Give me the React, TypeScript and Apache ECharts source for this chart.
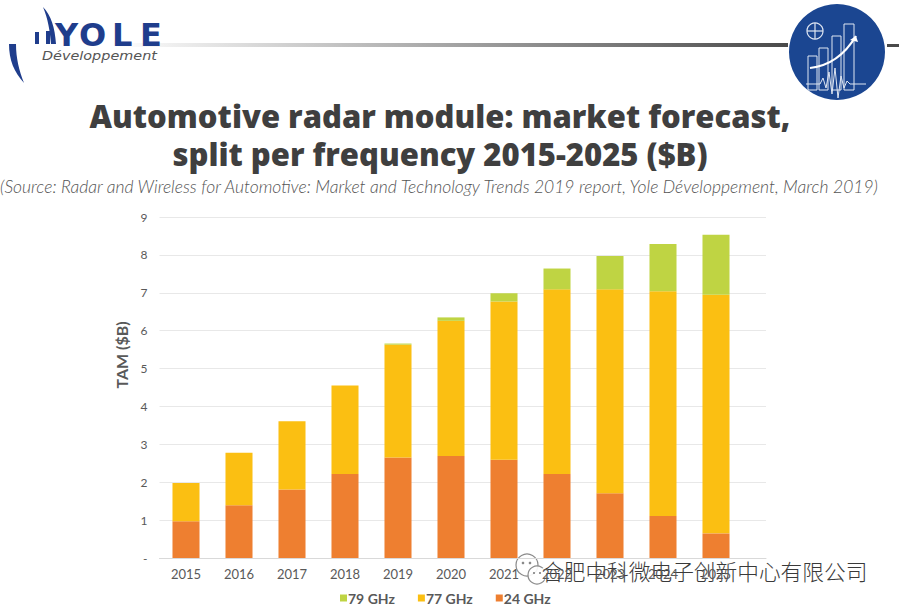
import React, { useEffect, useRef } from "react";
import * as echarts from "echarts";

const years = ["2015", "2016", "2017", "2018", "2019", "2020", "2021", "2022", "2023", "2024", "2025"];
const ghz24 = [0.97, 1.39, 1.81, 2.22, 2.65, 2.69, 2.59, 2.22, 1.71, 1.11, 0.65];
const ghz77 = [1.01, 1.39, 1.8, 2.33, 2.98, 3.57, 4.18, 4.87, 5.38, 5.93, 6.3];
const ghz79 = [0, 0, 0, 0, 0.03, 0.09, 0.22, 0.55, 0.88, 1.25, 1.58];
const seriesNames = ["79 GHz", "77 GHz", "24 GHz"];
const yTicks = [0, 1, 2, 3, 4, 5, 6, 7, 8, 9];

const titleLines = ["Automotive radar module: market forecast,", "split per frequency 2015-2025 ($B)"];
const subtitle =
  "(Source: Radar and Wireless for Automotive: Market and Technology Trends 2019 report, Yole Développement, March 2019)";
const watermark = "合肥中科微电子创新中心有限公司";
const yAxisTitle = "TAM ($B)";
const logoLetters = ["Y", "O", "L", "E"];

let registered = false;
function registerShapes() {
  if (registered) return;
  registered = true;
  echarts.graphic.registerShape(
    "yoleArmL",
    echarts.graphic.extendPath("M9,44 C9,60 14,72 24,83 C19,70 16,58 16,44 Z", {})
  );
  echarts.graphic.registerShape(
    "yoleArc",
    echarts.graphic.extendPath("M43,7 C51,15 55,28 56,44 L51,44 C50,31 48,19 43,7 Z", {})
  );
  echarts.graphic.registerShape(
    "wave",
    echarts.graphic.extendPath(
      "M0,0 L14,0 L17,-6 L20,4 L23,-12 L26,10 L29,-16 L32,14 L35,-8 L38,4 L41,-3 L44,0 L60,0",
      {}
    )
  );
  echarts.graphic.registerShape(
    "arrowCurve",
    echarts.graphic.extendPath("M0,36 C18,34 34,24 46,4", {})
  );
  echarts.graphic.registerShape(
    "arrowHead",
    echarts.graphic.extendPath("M46,4 L40,8 L48,10 Z", {})
  );
}

export default function App() {
  const ref = useRef<HTMLDivElement>(null);
  useEffect(() => {
    document.body.style.margin = "0";
    registerShapes();
    const chart = echarts.init(ref.current!, null, { renderer: "svg" });
    const grey = "#595959";
    const letterX = [55, 79, 112, 140];
    const option: any = {
      animation: false,
      backgroundColor: "#ffffff",
      grid: [
        { left: 159.5, right: 899 - 742.5, top: 217, bottom: 609 - 558, containLabel: false },
        { left: 159.5, right: 899 - 766, top: 217, bottom: 609 - 558, containLabel: false },
      ],
      legend: {
        data: seriesNames,
        left: 335,
        top: 586,
        icon: "rect",
        itemWidth: 7,
        itemHeight: 7,
        itemGap: 23,
        textStyle: { fontFamily: "Lato", fontWeight: "bold", fontSize: 14, color: "#595959", padding: [0, 0, 0, -4] },
      },
      xAxis: [
        {
          type: "category",
          gridIndex: 0,
          data: years,
          axisLine: { show: false },
          axisTick: { show: false },
          axisLabel: { color: grey, fontFamily: "Lato", fontSize: 13, margin: 9 },
        },
        {
          type: "value",
          gridIndex: 1,
          min: 0,
          max: 1,
          axisLine: { show: true, onZero: false, lineStyle: { color: "#d9d9d9" } },
          axisTick: { show: false },
          axisLabel: { show: false },
          splitLine: { show: false },
        },
      ],
      yAxis: [
        {
          type: "value",
          gridIndex: 0,
          min: 0,
          max: 9,
          interval: 1,
          axisLine: { show: false },
          axisTick: { show: false },
          splitLine: { show: false },
          axisLabel: {
            color: grey,
            fontFamily: "Lato",
            fontSize: 12,
            margin: 12,
            formatter: (v: number) => (v === 0 ? "-" : String(yTicks[v] ?? v)),
          },
        },
        {
          type: "value",
          gridIndex: 1,
          min: 0,
          max: 9,
          interval: 1,
          axisLine: { show: false },
          axisTick: { show: false },
          axisLabel: { show: false },
          splitLine: { lineStyle: { color: "#e8e8e8" } },
          z: 0,
        },
      ],
      series: [
        { name: "24 GHz", type: "bar", stack: "t", data: ghz24, barWidth: "51%", itemStyle: { color: "#EE7F30" }, z: 3 },
        { name: "77 GHz", type: "bar", stack: "t", data: ghz77, itemStyle: { color: "#FBBF12" }, z: 3 },
        { name: "79 GHz", type: "bar", stack: "t", data: ghz79, itemStyle: { color: "#BFD443" }, z: 3 },
      ],
      graphic: [
        // header gradient line
        {
          type: "rect",
          shape: { x: 112, y: 43, width: 676, height: 4 },
          style: {
            fill: new echarts.graphic.LinearGradient(0, 0, 1, 0, [
              { offset: 0, color: "#ffffff" },
              { offset: 1, color: "#4a4a4a" },
            ]),
          },
        },
        { type: "rect", shape: { x: 887, y: 44, width: 12, height: 3 }, style: { fill: "#4a4a4a" } },
        // Yole logo
        { type: "yoleArmL", x: 0, y: 0, style: { fill: "#1f3d8c" } },
        { type: "yoleArc", x: 0, y: 0, style: { fill: "#1f3d8c" } },
        { type: "rect", shape: { x: 35, y: 32, width: 4, height: 12 }, style: { fill: "#1f3d8c" } },
        { type: "rect", shape: { x: 46, y: 31, width: 4, height: 13 }, style: { fill: "#1f3d8c" } },
        ...logoLetters.map((ch, i) => ({
          type: "text",
          x: letterX[i],
          y: 35,
          style: {
            text: ch,
            fontFamily: "DejaVu Sans",
            fontWeight: "bold",
            fontSize: 32,
            fill: "#1f3d8c",
            verticalAlign: "middle",
          },
        })),
        {
          type: "text",
          x: 42,
          y: 56,
          scaleX: 1.2,
          style: {
            text: "Développement",
            fontFamily: "DejaVu Sans",
            fontStyle: "italic",
            fontSize: 12,
            fill: "#555555",
            verticalAlign: "middle",
          },
        },
        // circle logo
        { type: "circle", shape: { cx: 837, cy: 52, r: 48 }, style: { fill: "#1b4691" } },
        {
          type: "group",
          x: 808,
          y: 20,
          children: [
            { type: "circle", shape: { cx: 7, cy: 11, r: 8 }, style: { fill: "none", stroke: "#dfe6f2", lineWidth: 1.2 } },
            { type: "line", shape: { x1: -1, y1: 11, x2: 15, y2: 11 }, style: { stroke: "#dfe6f2", lineWidth: 1.2 } },
            { type: "line", shape: { x1: 7, y1: 3, x2: 7, y2: 19 }, style: { stroke: "#dfe6f2", lineWidth: 1.2 } },
            { type: "rect", shape: { x: 0, y: 36, width: 9, height: 34 }, style: { fill: "none", stroke: "#dfe6f2", lineWidth: 1 } },
            { type: "rect", shape: { x: 11, y: 28, width: 9, height: 42 }, style: { fill: "none", stroke: "#dfe6f2", lineWidth: 1 } },
            { type: "rect", shape: { x: 24, y: 16, width: 9, height: 54 }, style: { fill: "none", stroke: "#dfe6f2", lineWidth: 1 } },
            { type: "rect", shape: { x: 36, y: 4, width: 10, height: 66 }, style: { fill: "none", stroke: "#dfe6f2", lineWidth: 1 } },
            { type: "arrowCurve", x: 2, y: 12, style: { fill: "none", stroke: "#ffffff", lineWidth: 2.2 } },
            { type: "arrowHead", x: 2, y: 12, style: { fill: "#ffffff" } },
            { type: "wave", x: -2, y: 64, style: { fill: "none", stroke: "#dfe6f2", lineWidth: 1 } },
          ],
        },
        // titles
        {
          type: "text",
          x: 440,
          y: 116,
          style: {
            text: titleLines[0],
            fontFamily: "Open Sans",
            fontWeight: 800,
            fontSize: 31,
            fill: "#3f3f3f",
            align: "center",
            verticalAlign: "middle",
          },
        },
        {
          type: "text",
          x: 440,
          y: 154,
          style: {
            text: titleLines[1],
            fontFamily: "Open Sans",
            fontWeight: 800,
            fontSize: 31,
            fill: "#3f3f3f",
            align: "center",
            verticalAlign: "middle",
          },
        },
        {
          type: "text",
          x: 439,
          y: 186,
          style: {
            text: subtitle,
            fontFamily: "Lato",
            fontStyle: "italic",
            fontWeight: 300,
            fontSize: 17.5,
            fill: "#555555",
            align: "center",
            verticalAlign: "middle",
          },
        },
        // y axis title
        {
          type: "text",
          x: 121,
          y: 355,
          rotation: Math.PI / 2,
          style: {
            text: yAxisTitle,
            fontFamily: "Lato",
            fontWeight: "bold",
            fontSize: 16,
            fill: grey,
            align: "center",
            verticalAlign: "middle",
          },
        },
        // watermark
        {
          type: "group",
          x: 0,
          y: 0,
          children: [
            { type: "circle", shape: { cx: 527, cy: 565, r: 11 }, style: { fill: "rgba(255,255,255,0.9)", stroke: "#8a8a8a", lineWidth: 1.2 } },
            { type: "circle", shape: { cx: 537, cy: 575, r: 9 }, style: { fill: "rgba(255,255,255,0.9)", stroke: "#8a8a8a", lineWidth: 1.2 } },
            { type: "circle", shape: { cx: 523, cy: 563, r: 1.3 }, style: { fill: "#8a8a8a" } },
            { type: "circle", shape: { cx: 530, cy: 563, r: 1.3 }, style: { fill: "#8a8a8a" } },
            { type: "circle", shape: { cx: 534, cy: 573, r: 1.1 }, style: { fill: "#8a8a8a" } },
            { type: "circle", shape: { cx: 540, cy: 573, r: 1.1 }, style: { fill: "#8a8a8a" } },
          ],
        },
        {
          type: "text",
          x: 542,
          y: 570,
          style: {
            text: watermark,
            fontFamily: "Noto Sans CJK SC",
            fontWeight: 300,
            fontSize: 21.7,
            fill: "#3a3a3a",
            stroke: "#ffffff",
            lineWidth: 3,
            verticalAlign: "middle",
          },
        },
      ],
    };
    chart.setOption(option);
    return () => chart.dispose();
  }, []);
  return (
    <div
      ref={ref}
      style={{ position: "fixed", left: 0, top: 0, width: 899, height: 609, background: "#fff" }}
    />
  );
}
